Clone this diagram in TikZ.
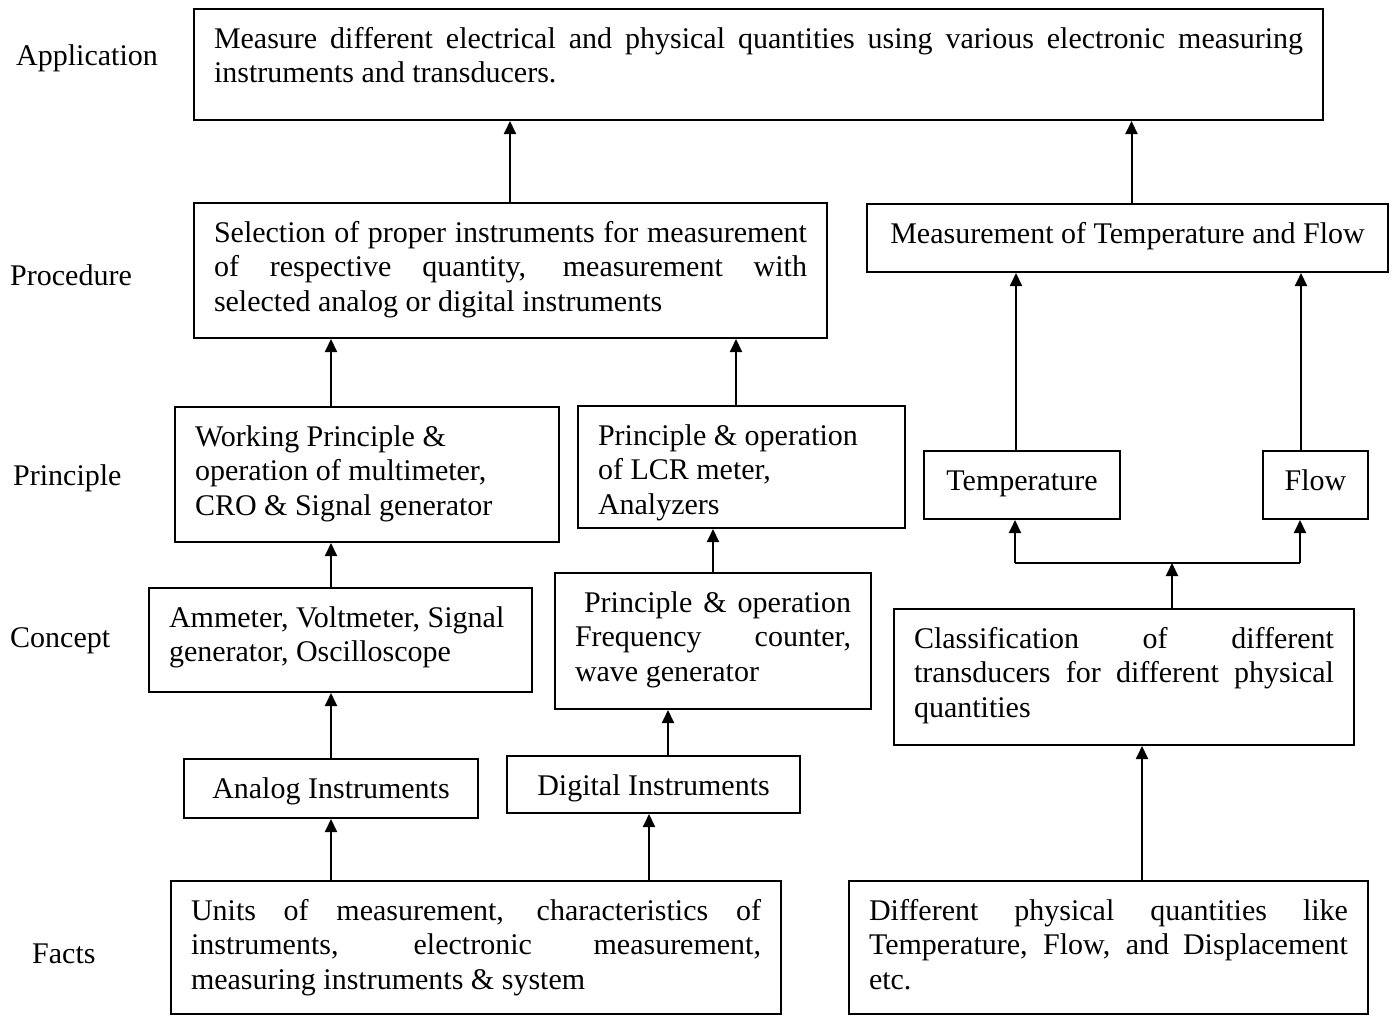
\documentclass[tikz,border=0pt]{standalone}
\usepackage{fontspec}
\setmainfont{Liberation Serif}
\usetikzlibrary{arrows.meta}
\newcommand\bxt[3]{\parbox[c][#2][t]{#1}{\tolerance=10000\hyphenpenalty=10000\vspace*{15pt}\strut #3}}
\begin{document}
\begin{tikzpicture}[x=1pt,y=-1pt,
  box/.style={draw, line width=2pt, inner xsep=20pt, inner ysep=0pt, anchor=north west, font=\fontsize{30}{34.5}\selectfont},
  lab/.style={anchor=base west, inner sep=0pt, font=\fontsize{30}{34.5}\selectfont},
  arr/.style={line width=2pt, -{Triangle[length=13pt,width=12pt]}},
  conn/.style={line width=2pt}]
\useasboundingbox (0,0) rectangle (1396,1015);

% row labels
\node[lab] (lApp)  at (16,65)  {Application};
\node[lab] (lProc) at (10,285) {Procedure};
\node[lab] (lPrin) at (13,485) {Principle};
\node[lab] (lConc) at (10,647) {Concept};
\node[lab] (lFact) at (32,963) {Facts};

% boxes
\node[box] (app) at (193,8) {\bxt{1089pt}{111pt}{Measure different electrical and physical quantities using various electronic measuring\linebreak instruments and transducers.}};
\node[box] (proc) at (193,202) {\bxt{593pt}{135pt}{Selection of proper instruments for measurement\linebreak of respective quantity, measurement with\linebreak selected analog or digital instruments}};
\node[box] (mtf) at (866,203) {\bxt{481pt}{68pt}{\centering Measurement of Temperature and Flow}};
\node[box] (prinL) at (174,406) {\bxt{344pt}{135pt}{Working Principle \&\\ operation of multimeter,\\ CRO \& Signal generator}};
\node[box] (prinM) at (577,405) {\bxt{287pt}{122pt}{Principle \& operation\\ of LCR meter,\\ Analyzers}};
\node[box] (temp) at (923,450) {\bxt{156pt}{68pt}{\centering Temperature}};
\node[box] (flow) at (1262,450) {\bxt{65pt}{68pt}{\centering Flow}};
\node[box] (concL) at (148,587) {\bxt{343pt}{104pt}{Ammeter, Voltmeter, Signal\\ generator, Oscilloscope}};
\node[box] (concM) at (554,572) {\bxt{276pt}{136pt}{\hspace*{9pt}Principle \& operation\linebreak Frequency counter,\linebreak wave generator}};
\node[box] (cls) at (893,608) {\bxt{420pt}{136pt}{Classification of different\linebreak transducers for different physical\linebreak quantities}};
\node[box] (analog) at (183,758) {\bxt{254pt}{59pt}{\centering Analog Instruments}};
\node[box] (digital) at (506,755) {\bxt{253pt}{57pt}{\centering Digital Instruments}};
\node[box] (factsL) at (170,880) {\bxt{570pt}{133pt}{Units of measurement, characteristics of\linebreak instruments, electronic measurement,\linebreak measuring instruments \& system}};
\node[box] (factsR) at (848,880) {\bxt{479pt}{133pt}{Different physical quantities like\linebreak Temperature, Flow, and Displacement\linebreak etc.}};

% junction coordinates
\coordinate (jL) at (1015,563);
\coordinate (jR) at (1300,563);
\coordinate (jC) at (1172,563);

% connectors
\draw[arr] ([xshift=-0.5pt]proc.north) -- ([xshift=-0.5pt]proc.north |- app.south);
\draw[arr] ([xshift=4pt]mtf.north) -- ([xshift=4pt]mtf.north |- app.south);
\draw[arr] (prinL.north -| analog.north) -- (analog.north |- proc.south);
\draw[arr] ([xshift=-5.5pt]prinM.north) -- ([xshift=-5.5pt]prinM.north |- proc.south);
\draw[arr] ([xshift=-6pt]temp.north) -- ([xshift=-6pt]temp.north |- mtf.south);
\draw[arr] ([xshift=-14.5pt]flow.north) -- ([xshift=-14.5pt]flow.north |- mtf.south);
\draw[arr] (concL.north -| analog.north) -- (analog.north |- prinL.south);
\draw[arr] (concM.north) -- (concM.north |- prinM.south);
\draw[arr] (cls.north -| jC) -- (jC);
\draw[conn] (jL) -- (jR);
\draw[arr] (jL) -- (jL |- temp.south);
\draw[arr] (jR) -- (jR |- flow.south);
\draw[arr] (analog.north) -- (analog.north |- concL.south);
\draw[arr] ([xshift=14.5pt]digital.north) -- ([xshift=14.5pt]digital.north |- concM.south);
\draw[arr] (factsL.north -| analog.north) -- (analog.south);
\draw[arr] ([xshift=-4.5pt]digital.north |- factsL.north) -- ([xshift=-4.5pt]digital.south);
\draw[arr] ([xshift=33.5pt]factsR.north) -- ([xshift=33.5pt]factsR.north |- cls.south);
\end{tikzpicture}
\end{document}
